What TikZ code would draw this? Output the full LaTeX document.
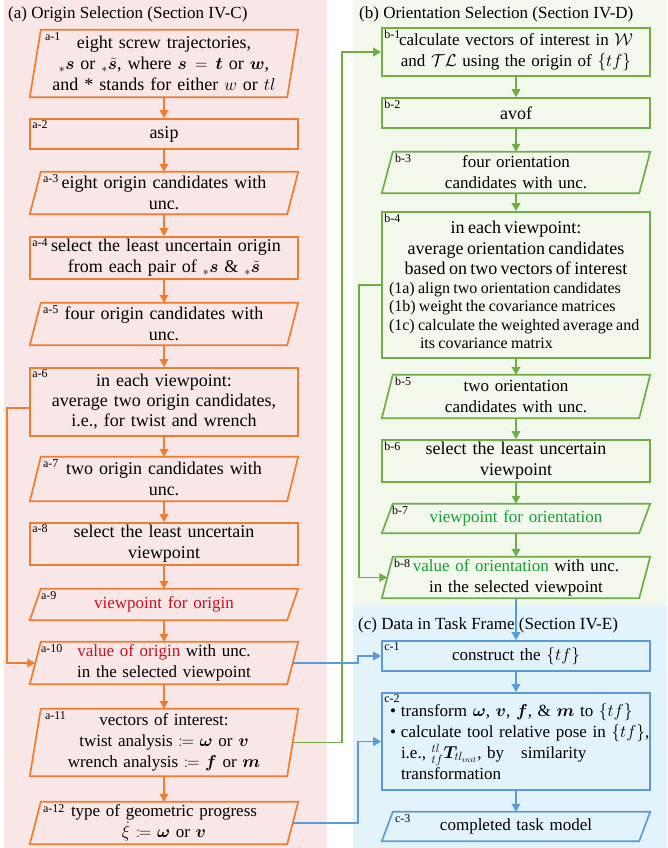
\documentclass[tikz,border=0pt]{standalone}
\usepackage{amsmath,bm,mathtools}
\usepackage{fontspec}
\setmainfont{Liberation Serif}
\usetikzlibrary{arrows.meta,calc}
\definecolor{ored}{RGB}{237,125,49}
\definecolor{ogreen}{RGB}{112,173,71}
\definecolor{oblue}{RGB}{91,155,213}
\definecolor{pinkbg}{RGB}{249,230,230}
\definecolor{greenbg}{RGB}{242,248,236}
\definecolor{bluebg}{RGB}{227,243,252}
\definecolor{txtred}{RGB}{200,16,32}
\definecolor{txtgreen}{RGB}{20,160,50}
\tikzset{
  cam/.style={font=\fontsize{18}{21}\selectfont},
  tim/.style={font=\fontsize{17}{21}\selectfont},
  lblf/.style={font=\fontsize{12}{13}\selectfont, inner sep=0pt},
  box/.style={rectangle, minimum width=268pt, text width=262pt, align=center, inner sep=0pt},
  rbox/.style={box, draw=#1, line width=1.7pt},
  pbox/.style={box},
  conn/.style={draw=#1, line width=1.8pt, -{Triangle[length=8pt,width=8.5pt]}},
}
\newcommand\para[2]{\draw[#2,line width=1.7pt,line join=miter] (#1.south west) -- ([xshift=11pt]#1.north west) -- (#1.north east) -- ([xshift=-11pt]#1.south east) -- cycle;}
\newcommand\lab[3]{\node[lblf,anchor=north west] (#1l) at ([xshift=#3,yshift=-2.5pt]#1.north west) {#2};}
\begin{document}
\begin{tikzpicture}[x=1pt,y=-1pt]
\useasboundingbox (0,0) rectangle (667,848);
% panels
\fill[pinkbg] (4,0) rectangle (327,848);
\fill[greenbg] (353,0) rectangle (667,606);
\fill[bluebg] (353,606) rectangle (667,848);
% titles
\node[tim,anchor=west,inner sep=0pt] (ta) at (8,14) {(a) Origin Selection (Section IV-C)};
\node[tim,anchor=west,inner sep=0pt] (tb) at (359,14) {(b) Orientation Selection (Section IV-D)};
\node[tim,anchor=west,inner sep=0pt] (tc) at (358,625) {(c) Data in Task Frame (Section IV-E)};
% column a
\node[pbox,cam,minimum height=67pt] (a1) at (164,63.5) {eight screw trajectories,\\ ${}_{*}\bm{s}$ or ${}_{*}\tilde{\bm{s}}$, where $\bm{s}=\bm{t}$ or $\bm{w}$,\\ and * stands for either $w$ or $tl$};
\para{a1}{ored}\lab{a1}{a-1}{15pt}
\node[rbox=ored,cam,minimum height=30pt] (a2) at (164,134) {asip};
\lab{a2}{a-2}{3pt}
\node[pbox,cam,minimum height=42pt] (a3) at (164,193) {eight origin candidates with\\ unc.};
\para{a3}{ored}\lab{a3}{a-3}{13pt}
\node[rbox=ored,cam,minimum height=42pt] (a4) at (164,258) {\hspace*{4pt}select the least uncertain origin\\ from each pair of ${}_{*}\bm{s}$ \& ${}_{*}\tilde{\bm{s}}$};
\lab{a4}{a-4}{3pt}
\node[pbox,cam,minimum height=42pt] (a5) at (164,324) {four origin candidates with\\ unc.};
\para{a5}{ored}\lab{a5}{a-5}{13pt}
\node[rbox=ored,cam,minimum height=68pt,font=\fontsize{18}{20}\selectfont] (a6) at (164,402) {in each viewpoint:\\ average two origin candidates,\\ i.e., for twist and wrench};
\lab{a6}{a-6}{3pt}
\node[pbox,cam,minimum height=44pt] (a7) at (164,479) {two origin candidates with\\ unc.};
\para{a7}{ored}\lab{a7}{a-7}{13pt}
\node[rbox=ored,cam,minimum height=42pt] (a8) at (164,544) {select the least uncertain\\ viewpoint};
\lab{a8}{a-8}{3pt}
\node[pbox,tim,minimum height=31pt,text=txtred] (a9) at (164,604.5) {viewpoint for origin};
\para{a9}{ored}\lab{a9}{a-9}{11pt}
\node[pbox,tim,minimum height=42pt] (a10) at (164,663) {\textcolor{txtred}{value of origin} with unc.\\ in the selected viewpoint};
\para{a10}{ored}\lab{a10}{a-10}{11pt}
\node[pbox,tim,minimum height=67pt] (a11) at (164,742.5) {vectors of interest:\\ \mbox{twist analysis $\coloneqq$ $\bm{\omega}$ or $\bm{v}$}\\ \mbox{wrench analysis $\coloneqq$ $\bm{f}$ or $\bm{m}$}};
\para{a11}{ored}\lab{a11}{a-11}{15pt}
\node[pbox,tim,minimum height=42pt] (a12) at (164,823) {type of geometric progress\\ \mbox{$\dot{\xi}$ $\coloneqq$ $\bm{\omega}$ or $\bm{v}$}};
\para{a12}{ored}\lab{a12}{a-12}{13pt}
% column b
\node[rbox=ogreen,tim,minimum height=48pt] (b1) at (516,52) {calculate vectors of interest in $\mathcal{W}$\\ and $\mathcal{TL}$ using the origin of $\{tf\}$};
\lab{b1}{b-1}{3pt}
\node[rbox=ogreen,cam,minimum height=30pt] (b2) at (516,113) {avof};
\lab{b2}{b-2}{3pt}
\node[pbox,tim,minimum height=41pt] (b3) at (516,172.5) {four orientation\\ candidates with unc.};
\para{b3}{ogreen}\lab{b3}{b-3}{13pt}
\node[rbox=ogreen,minimum height=146pt,text width=260pt,align=left] (b4) at (516,285) {{\centering\fontsize{18}{20.5}\selectfont in each viewpoint:\\ average orientation candidates\\ based on two vectors of interest\par}{\fontsize{16}{18.5}\selectfont \hspace*{3pt}(1a) align two orientation candidates\\ \hspace*{3pt}(1b) weight the covariance matrices\\ \hspace*{3pt}(1c) calculate the weighted average and\\ \hspace*{34pt}its covariance matrix\par}};
\lab{b4}{b-4}{3pt}
\node[pbox,tim,minimum height=43pt] (b5) at (516,396.5) {two orientation\\ candidates with unc.};
\para{b5}{ogreen}\lab{b5}{b-5}{13pt}
\node[rbox=ogreen,cam,minimum height=42pt] (b6) at (516,461) {select the least uncertain\\ viewpoint};
\lab{b6}{b-6}{3pt}
\node[pbox,tim,minimum height=29pt,text=txtgreen] (b7) at (516,518.5) {viewpoint for orientation};
\para{b7}{ogreen}\lab{b7}{b-7}{10pt}
\node[pbox,tim,minimum height=41pt] (b8) at (516,577.5) {\textcolor{txtgreen}{value of orientation} with unc.\\ in the selected viewpoint};
\para{b8}{ogreen}\lab{b8}{b-8}{12pt}
% column c
\node[rbox=oblue,tim,minimum height=97pt,text width=266pt,align=left] (c2) at (516,741.5) {\noindent\mbox{\hspace*{7pt}\makebox[11pt][l]{\textbullet}transform $\bm{\omega}$, $\bm{v}$, $\bm{f}$, \& $\bm{m}$ to $\{tf\}$}\\ \mbox{\hspace*{7pt}\makebox[11pt][l]{\textbullet}calculate tool relative pose in $\{tf\}$,}\\ \mbox{\hspace*{18pt}i.e., ${}^{tl}_{tf}\bm{T}_{tl_{init}}$, by\hspace{1em}similarity}\\ \mbox{\hspace*{18pt}transformation}};
\lab{c2}{c-2}{3pt}
\node[rbox=oblue,tim,minimum height=30pt] (c1) at (516,656) {construct the $\{tf\}$};
\lab{c1}{c-1}{3pt}
\node[pbox,tim,minimum height=29pt] (c3) at (516,826.5) {completed task model};
\para{c3}{oblue}\lab{c3}{c-3}{13pt}
% chains
\foreach \u/\v in {a1/a2,a2/a3,a3/a4,a4/a5,a5/a6,a6/a7,a7/a8,a8/a9,a9/a10,a10/a11,a11/a12}
  \draw[conn=ored] (\u.south) -- (\v.north);
\foreach \u/\v in {b1/b2,b2/b3,b3/b4,b4/b5,b5/b6,b6/b7,b7/b8}
  \draw[conn=ogreen] (\u.south) -- (\v.north);
\foreach \u/\v in {b8/c1,c1/c2,c2/c3}
  \draw[conn=oblue] (\u.south) -- (\v.north);
% loops and cross connectors
\draw[conn=ored] ([yshift=-6pt]a6.west) -- ++(-22,0) |- ([xshift=5.5pt]a10.west);
\draw[conn=ogreen] (b4.west) -- ++(-22,0) |- ([xshift=5.5pt]b8.west);
\draw[conn=ogreen] ([xshift=-5.5pt]a11.east) -- ++(49.5,0) |- (b1.west);
\draw[conn=oblue] ([xshift=-5.5pt]a10.east) -- ++(65.5,0) |- (c1.west);
\draw[conn=oblue] ([xshift=-5.5pt]a12.east) -- ++(65.5,0) |- (c2.west);
\end{tikzpicture}
\end{document}
